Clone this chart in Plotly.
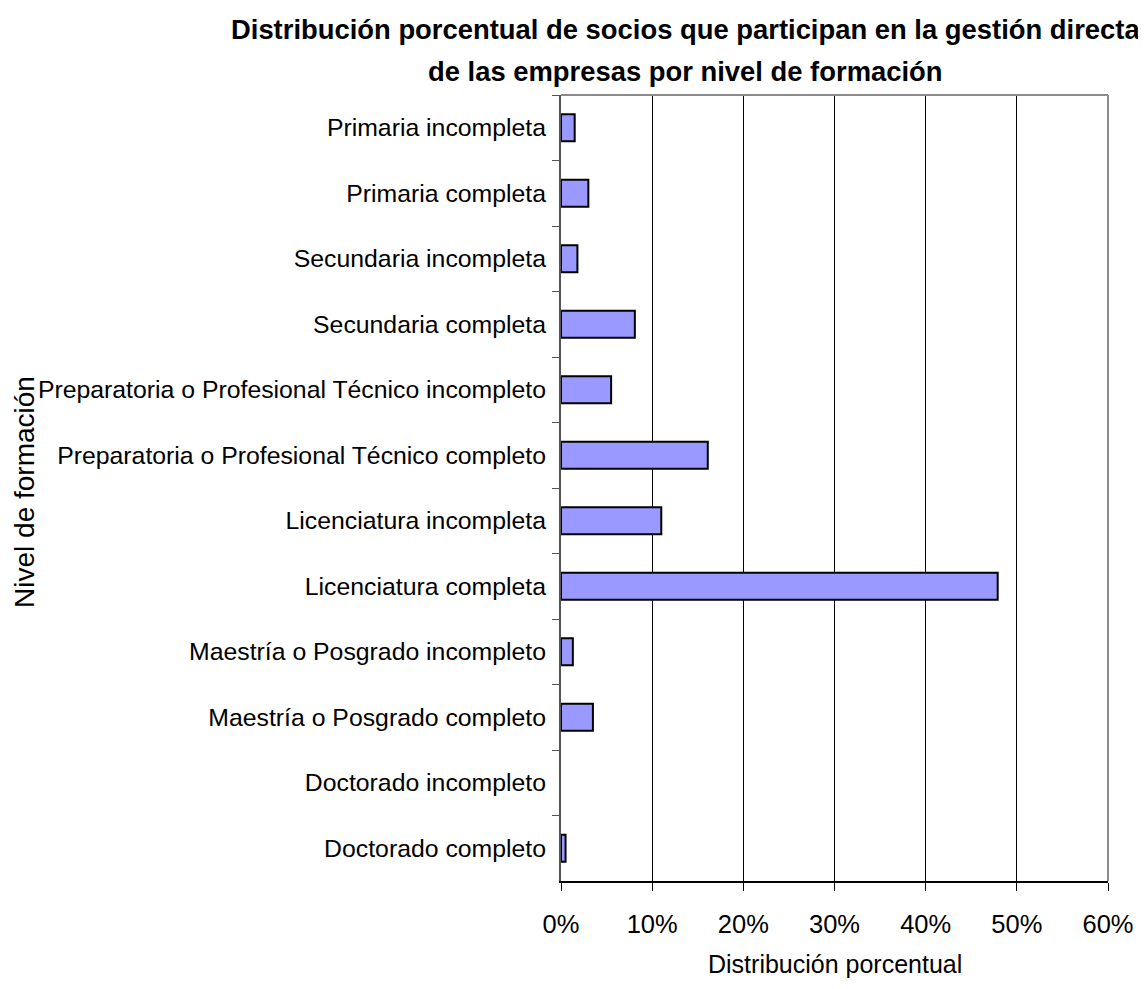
import plotly.graph_objects as go

categories = [
    "Primaria incompleta",
    "Primaria completa",
    "Secundaria incompleta",
    "Secundaria completa",
    "Preparatoria o Profesional Técnico incompleto",
    "Preparatoria o Profesional Técnico completo",
    "Licenciatura incompleta",
    "Licenciatura completa",
    "Maestría o Posgrado incompleto",
    "Maestría o Posgrado completo",
    "Doctorado incompleto",
    "Doctorado completo",
]
values = [1.5, 3.0, 1.8, 8.1, 5.5, 16.1, 11.0, 47.9, 1.3, 3.5, 0.0, 0.5]

title_lines = [
    "Distribución porcentual de socios que participan en la gestión directa",
    "de las empresas por nivel de formación",
]
x_title = "Distribución porcentual"
y_title = "Nivel de formación"

FONT = "Liberation Sans, Arial, sans-serif"

# The page body has an 8px margin; lay the figure out in page pixels.
OFF = 8
FW, FH = 1146 - OFF, 989 - 2 * OFF
PL, PT, PR, PB = 561, 95, 1111, 881          # plot area in page pixels
L, T = PL - OFF, PT - OFF
R, B = FW - (PR - OFF), FH - (PB - OFF)


def px_x(x):
    return (x - PL) / (PR - PL)


def px_y(y):
    return (PB - y) / (PB - PT)


fig = go.Figure(
    go.Bar(
        x=values,
        y=categories,
        orientation="h",
        marker=dict(
            color="#9999FF",
            line=dict(color="black", width=[2 if v > 0 else 0 for v in values]),
        ),
        width=0.41,
    )
)

annotations = [
    dict(text="<b>" + title_lines[0] + "</b>", x=px_x(686), y=px_y(30)),
    dict(text="<b>" + title_lines[1] + "</b>", x=px_x(686), y=px_y(72)),
]
annotations = [
    dict(a, xref="paper", yref="paper", xanchor="center", yanchor="middle",
         showarrow=False, font=dict(family=FONT, size=27.4, color="black"))
    for a in annotations
]
annotations.append(dict(
    text=x_title, x=px_x(836), y=px_y(964), xref="paper", yref="paper",
    xanchor="center", yanchor="middle", showarrow=False,
    font=dict(family=FONT, size=25, color="black"),
))
annotations.append(dict(
    text=y_title, x=px_x(22), y=px_y(492), xref="paper", yref="paper",
    xanchor="center", yanchor="middle", showarrow=False, textangle=-90,
    font=dict(family=FONT, size=28, color="black"),
))

fig.update_layout(
    width=FW,
    height=FH,
    paper_bgcolor="white",
    plot_bgcolor="white",
    showlegend=False,
    margin=dict(l=L, r=R, t=T, b=B),
    font=dict(family=FONT, color="black", size=25),
    xaxis=dict(
        range=[0, 60],
        dtick=10,
        ticksuffix="%",
        showgrid=True,
        gridcolor="black",
        gridwidth=1,
        showline=True,
        linecolor="black",
        linewidth=2,
        ticks="outside",
        ticklen=8,
        tickcolor="black",
        ticklabelstandoff=11,
        zeroline=False,
        tickfont=dict(size=25.5),
        fixedrange=True,
    ),
    yaxis=dict(
        categoryorder="array",
        categoryarray=categories,
        autorange="reversed",
        showline=True,
        linecolor="#555555",
        linewidth=2,
        ticks="outside",
        tickson="boundaries",
        ticklen=7,
        tickcolor="#555555",
        showgrid=False,
        tickfont=dict(size=24.8),
        ticklabelstandoff=8,
        fixedrange=True,
    ),
    annotations=annotations,
    shapes=[
        dict(type="line", xref="paper", yref="paper", x0=0, x1=1, y0=1, y1=1,
             line=dict(color="#8c8c8c", width=2)),
        dict(type="line", xref="paper", yref="paper", x0=1, x1=1, y0=0, y1=1,
             line=dict(color="#8c8c8c", width=2)),
    ],
)

fig.write_html("out.html")
